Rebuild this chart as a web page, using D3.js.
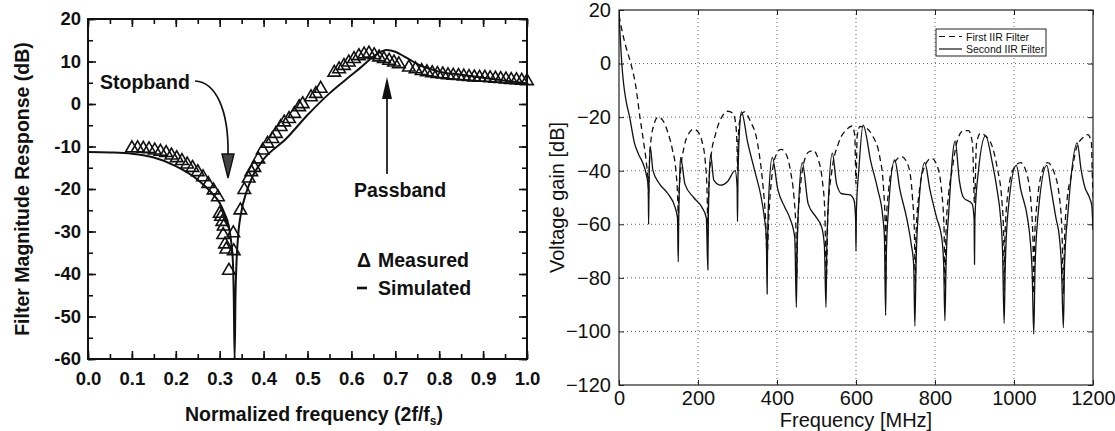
<!DOCTYPE html>
<html>
<head>
<meta charset="utf-8">
<script src="https://cdn.jsdelivr.net/npm/d3@7"></script>
<style>
  body { margin: 0; background: #fff; }
  svg { display: block; }
</style>
</head>
<body>
<div id="chart"></div>
<script>
// ---- left panel: measured vs simulated filter response ----
const simFreq = [0, 0.05, 0.10, 0.15, 0.20, 0.25, 0.28, 0.30, 0.31, 0.32, 0.325, 0.33, 0.332, 0.334,
  0.336, 0.338, 0.342, 0.35, 0.36, 0.37, 0.38, 0.40, 0.45, 0.50, 0.55, 0.60, 0.62, 0.64, 0.66, 0.68,
  0.70, 0.72, 0.74, 0.76, 0.78, 0.80, 0.85, 0.90, 0.95, 1.00];
const simGain = [-11.3, -11.4, -11.7, -12.6, -14.6, -17.8, -20.7, -23.3, -25.5, -28.5, -31.5, -37, -45, -60,
  -45, -38, -31, -25, -21, -18.2, -16, -13, -8.3, -2.6, 2.5, 6.8, 8.5, 10.3, 11.9, 12.7,
  12.3, 11.2, 10.0, 8.9, 8.2, 7.6, 6.9, 6.2, 5.5, 4.8];

const measFreq = [0.100, 0.113, 0.126, 0.139, 0.152, 0.165, 0.178, 0.190, 0.202, 0.214, 0.226, 0.238,
  0.250, 0.262, 0.274, 0.286, 0.296, 0.300, 0.303, 0.306, 0.309, 0.308, 0.312, 0.315, 0.321, 0.331, 0.332,
  0.347, 0.356, 0.366, 0.372, 0.379, 0.388, 0.398, 0.409, 0.420, 0.428, 0.439, 0.447, 0.458, 0.470,
  0.481, 0.489, 0.508, 0.519, 0.530, 0.561, 0.572, 0.583, 0.594, 0.606, 0.617, 0.629, 0.640, 0.652,
  0.663, 0.674, 0.686, 0.697, 0.708, 0.731, 0.746, 0.760, 0.772, 0.784, 0.796, 0.808, 0.820, 0.832,
  0.844, 0.856, 0.868, 0.880, 0.892, 0.904, 0.916, 0.928, 0.940, 0.952, 0.964, 0.976, 0.988, 1.000];
const measGain = [-10.4, -10.4, -10.5, -10.6, -10.9, -11.2, -11.5, -12.1, -12.7, -13.4, -14.2, -15.0,
  -16.0, -17.2, -18.8, -20.3, -21.9, -25.8, -26.5, -27.7, -28.8, -30.8, -33.0, -34.2, -39.2, -30.4, -34.6,
  -25.0, -20.2, -17.5, -16.0, -15.0, -13.0, -10.9, -9.3, -8.2, -7.0, -5.4, -4.3, -3.5, -2.3,
  -0.7, 0.0, 1.6, 2.4, 3.6, 7.4, 8.2, 9.0, 9.8, 10.6, 11.3, 11.7, 11.9, 11.5,
  11.0, 10.6, 10.2, 9.8, 9.4, 8.6, 8.2, 7.8, 7.5, 7.3, 7.1, 7.0, 6.8, 6.7,
  6.6, 6.5, 6.4, 6.3, 6.2, 6.2, 6.1, 6.0, 5.9, 5.8, 5.7, 5.6, 5.5, 5.4];

const leftXTicks = [0, 0.1, 0.2, 0.3, 0.4, 0.5, 0.6, 0.7, 0.8, 0.9, 1.0];
const leftYTicks = [20, 10, 0, -10, -20, -30, -40, -50, -60];

// ---- right panel: two IIR filters ----
const firstFreq = [0, 8, 18, 30, 42, 53, 63, 70, 74, 75, 76, 80, 88, 99, 110, 122, 135, 144, 149, 150, 151,
  156, 165, 177, 189, 200, 210, 218, 223, 225, 227, 232, 245, 260, 275, 288, 295, 299, 300, 301, 305, 317,
  334, 347, 356, 364, 371, 375, 379, 387, 398, 410, 422, 434, 443, 448, 450, 452, 458, 468, 480, 492, 505,
  515, 521, 525, 529, 539, 556, 577, 590, 597, 600, 603, 610, 625, 642, 660, 670, 674, 675, 676, 682, 694,
  715, 732, 743, 748, 750, 752, 760, 775, 791, 805, 817, 823, 825, 828, 835, 843, 855, 872, 885, 895, 900,
  905, 915, 928, 945, 957, 970, 974, 975, 977, 985, 1000, 1017, 1032, 1043, 1048, 1050, 1052, 1060, 1072,
  1085, 1100, 1115, 1122, 1125, 1128, 1135, 1145, 1157, 1174, 1187, 1196, 1198, 1200];
const firstGain = [18, 12, 6, 0, -8, -20, -30, -38, -45, -50, -42, -30, -23, -20, -21, -25, -32, -40, -52, -60, -52,
  -40, -31, -26, -24.5, -25.5, -29, -36, -48, -65, -48, -36, -26, -20, -17.8, -18.5, -22, -32, -40, -32, -22, -18,
  -22, -27, -34.7, -44.8, -58, -72, -58, -42, -34, -32, -33.5, -40, -50, -62, -80, -62, -48, -37, -33, -32.5, -36,
  -44, -55, -80, -55, -40, -29.6, -24.5, -23.3, -27, -45, -27, -23.5, -24, -27, -34.7, -47, -62, -82, -62, -48, -38,
  -34.7, -38, -50, -64, -84, -64, -48, -38, -35.3, -38, -48, -62, -83, -62, -48, -40, -29.6, -25, -25, -30, -52,
  -30, -26, -27, -31, -38.5, -52.4, -65, -85, -65, -48, -39, -37, -41, -52, -66, -86, -66, -50, -40,
  -37, -40, -50, -65, -86, -65, -50, -42, -32, -27.7, -26.5, -29.6, -40, -50];

const secondFreq = [0, 3, 7, 12, 18, 27, 39, 50, 60, 70, 74, 75, 76, 79, 86, 103, 124, 142, 148, 150, 151, 153,
  156, 167, 189, 210, 221, 225, 226, 228, 232, 240, 257, 275, 294, 299, 300, 301, 305, 310, 326, 343, 360, 368,
  373, 375, 376, 379, 388, 402, 420, 432, 445, 449, 451, 455, 464, 479, 500, 513, 520, 524, 526, 530, 540, 551,
  564, 585, 595, 599, 600, 601, 607, 618, 638, 655, 668, 672, 675, 677, 682, 698, 711, 728, 740, 746, 749, 752,
  758, 774, 787, 804, 817, 822, 825, 828, 835, 851, 862, 872, 894, 899, 900, 901, 910, 928, 945, 957, 966, 971,
  975, 978, 985, 1006, 1017, 1034, 1042, 1046, 1050, 1053, 1060, 1083, 1094, 1106, 1115, 1120, 1125, 1128, 1137,
  1160, 1170, 1179, 1191, 1197, 1200];
const secondGain = [18.5, 10, 0, -8, -14, -20, -29.6, -34, -37, -42, -46, -60, -45, -31, -40, -45, -48.6, -53.7, -57.5,
  -74, -60, -45, -35, -45, -50, -53.7, -57.5, -77, -60, -45, -34, -43.5, -45.4, -44, -40, -46, -59, -45, -25, -18,
  -29.6, -39.7, -50, -57.5, -65, -86, -70, -50, -35, -47, -53.7, -57.5, -65, -91, -70, -52, -37, -52.4, -57.5, -61,
  -68, -91, -70, -52, -33.4, -45, -48.6, -49, -51, -58, -70, -55, -40, -23, -37, -47, -57.5, -65, -94, -70, -55,
  -36, -47, -57.5, -67.6, -75, -98, -75, -55, -37, -47, -57.5, -65, -75, -96, -75, -55, -29, -44, -50, -52.4, -58,
  -75, -58, -40, -27, -37, -47, -57.5, -70, -97, -75, -55, -38, -47, -57.5, -67.6, -78, -101, -78, -58, -38, -47,
  -57.5, -65, -75, -98.6, -75, -55, -29.6, -39.7, -46, -50, -53, -62];

const rightXTicks = [0, 200, 400, 600, 800, 1000, 1200];
const rightYTicks = [20, 0, -20, -40, -60, -80, -100, -120];
const legendLabels = ["First IIR Filter", "Second IIR Filter"];

const W = 1115, H = 431;
const svg = d3.select("#chart").append("svg").attr("width", W).attr("height", H);

// ================= left panel =================
const boldFont = "'Liberation Sans', Arial, Helvetica, sans-serif";
const xL = d3.scaleLinear().domain([0, 1]).range([88, 527]);
const yL = d3.scaleLinear().domain([-60, 20]).range([359, 19]);

const gL = svg.append("g").attr("font-family", boldFont).attr("font-weight", "bold");

svg.append("clipPath").attr("id", "clipL").append("rect")
  .attr("x", 88).attr("y", 19).attr("width", 439).attr("height", 340);

const minorX = d3.range(0, 1.0001, 0.05);
const minorY = d3.range(-60, 20.001, 5);

// inward ticks on all four sides
gL.append("g").attr("transform", "translate(0,359)")
  .call(d3.axisBottom(xL).tickValues(minorX).tickSize(-5).tickFormat(""));
gL.append("g").attr("transform", "translate(0,19)")
  .call(d3.axisTop(xL).tickValues(minorX).tickSize(-5).tickFormat(""));
gL.append("g").attr("transform", "translate(88,0)")
  .call(d3.axisLeft(yL).tickValues(minorY).tickSize(-5).tickFormat(""));
gL.append("g").attr("transform", "translate(527,0)")
  .call(d3.axisRight(yL).tickValues(minorY).tickSize(-5).tickFormat(""));

const axL = gL.append("g").attr("transform", "translate(0,359)")
  .call(d3.axisBottom(xL).tickValues(leftXTicks).tickSize(-8).tickPadding(13).tickFormat(d3.format(".1f")));
const ayL = gL.append("g").attr("transform", "translate(88,0)")
  .call(d3.axisLeft(yL).tickValues(leftYTicks).tickSize(-8).tickPadding(7).tickFormat(d => String(d)));
gL.append("g").attr("transform", "translate(0,19)")
  .call(d3.axisTop(xL).tickValues(leftXTicks).tickSize(-8).tickFormat(""));
gL.append("g").attr("transform", "translate(527,0)")
  .call(d3.axisRight(yL).tickValues(leftYTicks).tickSize(-8).tickFormat(""));

gL.selectAll(".domain").remove();
gL.selectAll(".tick line").attr("stroke", "#111").attr("stroke-width", 1.6);
[axL, ayL].forEach(a => a.selectAll("text")
  .attr("font-size", 18.5).attr("font-family", boldFont).attr("font-weight", "bold").attr("fill", "#111"));

gL.append("rect").attr("x", 88).attr("y", 19).attr("width", 439).attr("height", 340)
  .attr("fill", "none").attr("stroke", "#111").attr("stroke-width", 2);

// simulated line
const simData = simFreq.map((f, i) => [f, simGain[i]]);
gL.append("path").datum(simData)
  .attr("clip-path", "url(#clipL)")
  .attr("fill", "none").attr("stroke", "#111").attr("stroke-width", 2)
  .attr("d", d3.line().x(d => xL(d[0])).y(d => yL(d[1])).curve(d3.curveMonotoneX));

// measured triangles
const tri = d3.symbol().type(d3.symbolTriangle).size(68);
gL.selectAll(".meas").data(measFreq.map((f, i) => [f, measGain[i]]))
  .enter().append("path").attr("class", "meas")
  .attr("transform", d => `translate(${xL(d[0])},${yL(d[1])})`)
  .attr("d", tri).attr("fill", "none").attr("stroke", "#111").attr("stroke-width", 1.6);

// annotations
gL.append("text").attr("x", 100).attr("y", 89).attr("font-size", 19.5).attr("fill", "#111").text("Stopband");
gL.append("path").attr("d", "M195,81 C215,82 229,108 228,156")
  .attr("fill", "none").attr("stroke", "#111").attr("stroke-width", 1.7);
gL.append("path").attr("d", "M222,154 L234,154 L228,178 Z")
  .attr("fill", "#444").attr("stroke", "#111").attr("stroke-width", 1.4);

gL.append("text").attr("x", 400).attr("y", 197).attr("text-anchor", "middle")
  .attr("font-size", 19.5).attr("fill", "#111").text("Passband");
gL.append("line").attr("x1", 387).attr("x2", 387).attr("y1", 174).attr("y2", 92)
  .attr("stroke", "#111").attr("stroke-width", 1.7);
gL.append("path").attr("d", "M382,99 L392,99 L387,77 Z").attr("fill", "#111");

gL.append("text").attr("x", 357).attr("y", 267).attr("font-size", 19.5).attr("fill", "#111").text("Δ");
gL.append("text").attr("x", 378).attr("y", 267).attr("font-size", 19.5).attr("fill", "#111").text("Measured");
gL.append("line").attr("x1", 357).attr("x2", 367).attr("y1", 288).attr("y2", 288)
  .attr("stroke", "#111").attr("stroke-width", 2.6);
gL.append("text").attr("x", 378).attr("y", 295).attr("font-size", 19.5).attr("fill", "#111").text("Simulated");

// axis titles
const xt = gL.append("text").attr("x", 314).attr("y", 421).attr("text-anchor", "middle")
  .attr("font-size", 19.5).attr("fill", "#111");
xt.append("tspan").text("Normalized frequency (2f/f");
xt.append("tspan").attr("font-size", 12).attr("dy", 4).text("s");
xt.append("tspan").attr("dy", -4).text(")");

gL.append("text").attr("transform", "translate(29,189) rotate(-90)").attr("text-anchor", "middle")
  .attr("font-size", 19.5).attr("fill", "#111").text("Filter Magnitude Response (dB)");

// ================= right panel =================
const font = "'Liberation Sans', Arial, Helvetica, sans-serif";
const x0 = 619, x1 = 1093, yTop = 10, yBot = 385;
const xR = d3.scaleLinear().domain([0, 1200]).range([x0, x1]);
const yR = d3.scaleLinear().domain([-120, 20]).range([yBot, yTop]);

const gR = svg.append("g").attr("font-family", font);

svg.append("clipPath").attr("id", "clipR").append("rect")
  .attr("x", x0).attr("y", yTop).attr("width", x1 - x0).attr("height", yBot - yTop);

// dotted grid
gR.append("g").selectAll("line").data(rightXTicks.slice(1, -1)).enter().append("line")
  .attr("x1", d => xR(d)).attr("x2", d => xR(d)).attr("y1", yTop).attr("y2", yBot)
  .attr("stroke", "#666").attr("stroke-width", 1).attr("stroke-dasharray", "1,3");
gR.append("g").selectAll("line").data(rightYTicks.slice(1, -1)).enter().append("line")
  .attr("y1", d => yR(d)).attr("y2", d => yR(d)).attr("x1", x0).attr("x2", x1)
  .attr("stroke", "#666").attr("stroke-width", 1).attr("stroke-dasharray", "1,3");

const axR = gR.append("g").attr("transform", `translate(0,${yBot})`)
  .call(d3.axisBottom(xR).tickValues(rightXTicks).tickSize(-5).tickPadding(6).tickFormat(d3.format("d")));
const ayR = gR.append("g").attr("transform", `translate(${x0},0)`)
  .call(d3.axisLeft(yR).tickValues(rightYTicks).tickSize(-5).tickPadding(8));
gR.append("g").attr("transform", `translate(0,${yTop})`)
  .call(d3.axisTop(xR).tickValues(rightXTicks).tickSize(-5).tickFormat(""));
gR.append("g").attr("transform", `translate(${x1},0)`)
  .call(d3.axisRight(yR).tickValues(rightYTicks).tickSize(-5).tickFormat(""));
gR.selectAll(".domain").remove();
gR.selectAll(".tick line").attr("stroke", "#222");
[axR, ayR].forEach(a => a.selectAll("text").attr("font-size", 20).attr("font-family", font).attr("fill", "#111"));

gR.append("rect").attr("x", x0).attr("y", yTop).attr("width", x1 - x0).attr("height", yBot - yTop)
  .attr("fill", "none").attr("stroke", "#222").attr("stroke-width", 1.2);

const lineR = d3.line().x(d => xR(d[0])).y(d => yR(d[1])).curve(d3.curveMonotoneX);
gR.append("path").datum(firstFreq.map((f, i) => [f, firstGain[i]]))
  .attr("clip-path", "url(#clipR)").attr("fill", "none").attr("stroke", "#111")
  .attr("stroke-width", 1.3).attr("stroke-dasharray", "6,4").attr("d", lineR);
gR.append("path").datum(secondFreq.map((f, i) => [f, secondGain[i]]))
  .attr("clip-path", "url(#clipR)").attr("fill", "none").attr("stroke", "#111")
  .attr("stroke-width", 1.3).attr("d", lineR);

// legend
const lg = gR.append("g").attr("transform", "translate(936,29)");
lg.append("rect").attr("width", 110).attr("height", 27).attr("fill", "#fff").attr("stroke", "#222");
legendLabels.forEach((lab, i) => {
  const y = 7.5 + i * 12.5;
  lg.append("line").attr("x1", 3).attr("x2", 26).attr("y1", y).attr("y2", y)
    .attr("stroke", "#111").attr("stroke-width", 1.2).attr("stroke-dasharray", i === 0 ? "6,4" : null);
  lg.append("text").attr("x", 30).attr("y", y + 4).attr("font-size", 10.5).attr("fill", "#111").text(lab);
});

gR.append("text").attr("x", (x0 + x1) / 2).attr("y", 427).attr("text-anchor", "middle")
  .attr("font-size", 20).attr("fill", "#111").text("Frequency [MHz]");
gR.append("text").attr("transform", `translate(564,${(yTop + yBot) / 2}) rotate(-90)`).attr("text-anchor", "middle")
  .attr("font-size", 20).attr("fill", "#111").text("Voltage gain [dB]");
</script>
</body>
</html>
